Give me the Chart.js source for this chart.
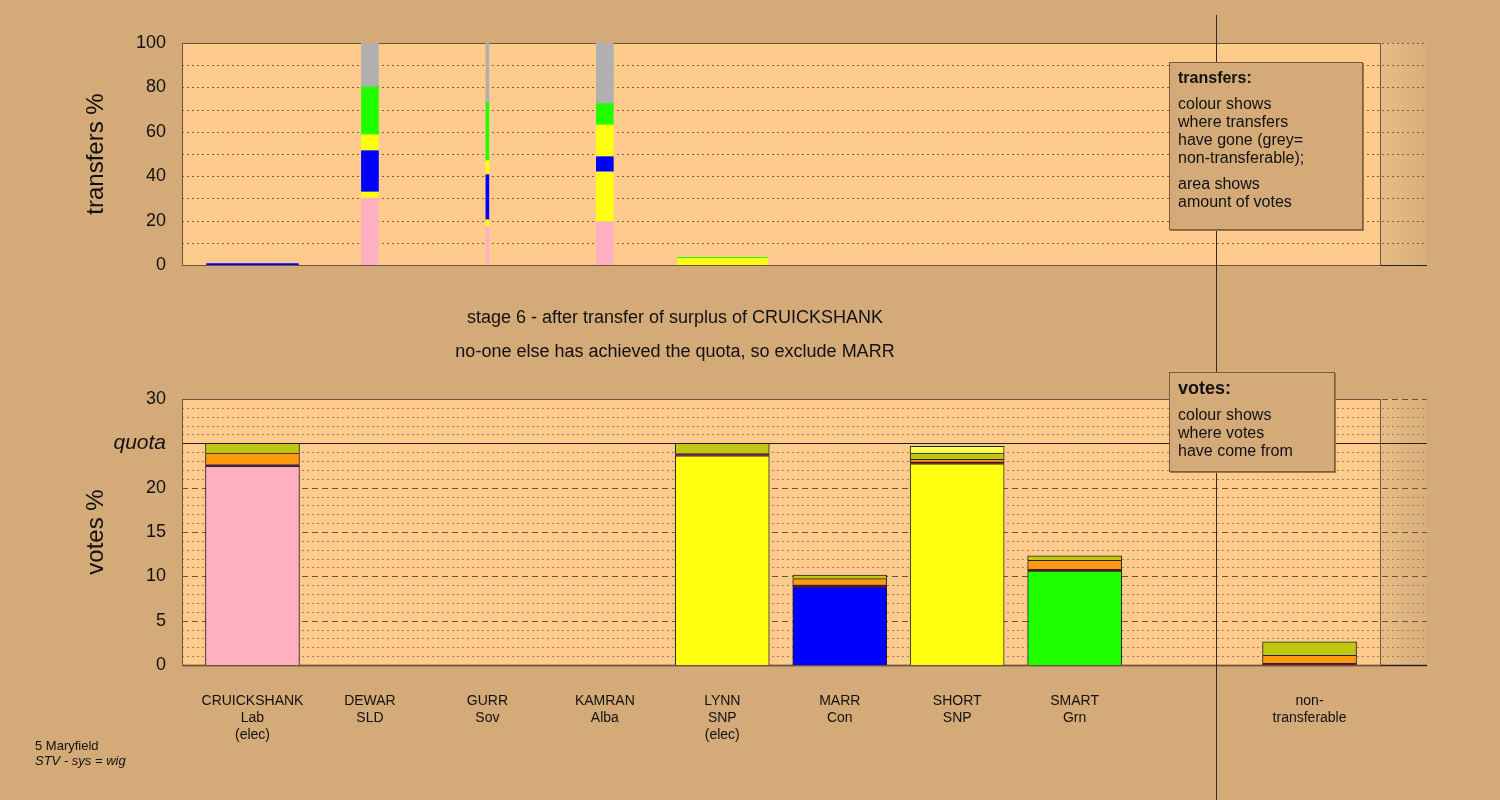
<!DOCTYPE html>
<html>
<head>
<meta charset="utf-8">
<script src="https://cdn.jsdelivr.net/npm/chart.js@4/dist/chart.umd.min.js"></script>
<style>
  body { margin:0; width:1500px; height:800px; background:#D4AA78; font-family:"Liberation Sans", Arial, sans-serif; overflow:hidden; }
  canvas { position:absolute; left:0; top:0; }
  .txt { position:absolute; color:#111; }
  .box { position:absolute; background:#D4AA78; border:1px solid #7a5c3a; box-shadow:1px 1px 0 #9a7a55; padding:6px 8px; font-size:16px; line-height:18px; color:#111; z-index:3; }
  .vline { position:absolute; left:1216px; top:15px; width:1px; height:785px; background:#3a2a1a; z-index:2; }
</style>
</head>
<body>
<canvas id="topChart" width="1500" height="800"></canvas>
<canvas id="botChart" width="1500" height="800"></canvas>
<div class="vline"></div>
<div class="txt" style="left:0;width:1350px;top:307px;text-align:center;font-size:18px;">stage 6 - after transfer of surplus of CRUICKSHANK</div>
<div class="txt" style="left:0;width:1350px;top:341px;text-align:center;font-size:18px;">no-one else has achieved the quota, so exclude MARR</div>
<div class="txt" style="left:35px;top:738px;font-size:13px;line-height:15px;">5 Maryfield<br><i>STV - sys = wig</i></div>
<div class="box" style="left:1169px;top:62px;width:176px;height:154px;">
  <b>transfers:</b>
  <div style="margin-top:8px">colour shows<br>where transfers<br>have gone (grey=<br>non-transferable);</div>
  <div style="margin-top:8px">area shows<br>amount of votes</div>
</div>
<div class="box" style="left:1169px;top:372px;width:148px;height:86px;">
  <b style="font-size:18px">votes:</b>
  <div style="margin-top:8px">colour shows<br>where votes<br>have come from</div>
</div>
<script>
// slots along the x axis (index 8 is an empty gap)
const slotLabels = [['CRUICKSHANK','Lab','(elec)'], ['DEWAR','SLD'], ['GURR','Sov'], ['KAMRAN','Alba'],
  ['LYNN','SNP','(elec)'], ['MARR','Con'], ['SHORT','SNP'], ['SMART','Grn'], [''], ['non-','transferable']];
const slots = [0,1,2,3,4,5,6,7,8,9];

// transfers (top chart): percent of each candidate's transfers, bottom to top
const transferSlots  = [0, 1, 2, 3, 4];
const transferWidths = [92, 17, 3, 17, 90];
const tPink    = [0,   30.2, 17.4, 19.5, 0];
const tYellow1 = [0,   2.7,  3.0,  22.5, 3.0];
const tBlue    = [0.6, 18.6, 20.3, 6.8,  0];
const tYellow2 = [0,   7.2,  6.3,  14.3, 0];
const tGreen   = [0,   21.5, 26.3, 9.6,  0.5];
const tGrey    = [0,   19.8, 26.7, 27.3, 0];

// votes (bottom chart): percent of votes by origin colour
const vPink   = [22.4, 0, 0, 0, 0,    0,    0,    0,    0, 0];
const vBlue   = [0,    0, 0, 0, 0,    8.8,  0,    0,    0, 0];
const vYellow = [0,    0, 0, 0, 23.6, 0,    22.7, 0,    0, 0];
const vGreen  = [0,    0, 0, 0, 0,    0,    0,    10.6, 0, 0];
const vPurple = [0.2,  0, 0, 0, 0.25, 0.25, 0.2,  0.2,  0, 0.2];
const vOrange = [1.3,  0, 0, 0, 0,    0.7,  0.3,  1.0,  0, 0.9];
const vOlive  = [1.1,  0, 0, 0, 1.15, 0.4,  0.7,  0.5,  0, 1.5];
const vLight  = [0,    0, 0, 0, 0,    0,    0.75, 0,    0, 0];
const quota = 25;

const C = { pink:'#FFB0C0', yellow:'#FFFF10', blue:'#0000FF', green:'#20FF00', grey:'#B0B0B0',
            purple:'#701040', orange:'#FF9A10', olive:'#C0C810', light:'#FFFF50' };
const PLOT_BG = '#FFCB8C';
const X_MIN = -0.6, X_MAX = 10, BOX_RIGHT = 9.6;

// background + hand-drawn grid
function gridPlugin(lines) {
  return {
    id: 'grid',
    beforeDatasetsDraw(chart) {
      const c = chart.ctx, a = chart.chartArea, x = chart.scales.x, y = chart.scales.y;
      const xr = x.getPixelForValue(BOX_RIGHT);
      c.save();
      c.fillStyle = PLOT_BG;
      c.fillRect(a.left, a.top, xr - a.left, a.bottom - a.top);
      const g = c.createLinearGradient(xr, 0, a.right, 0);
      g.addColorStop(0, '#E9BC84'); g.addColorStop(1, '#D8AE7A');
      c.fillStyle = g;
      c.fillRect(xr, a.top, a.right - xr, a.bottom - a.top);
      lines.forEach(l => {
        const py = Math.round(y.getPixelForValue(l.v)) + 0.5;
        c.beginPath();
        c.setLineDash(l.dash);
        c.strokeStyle = l.color; c.lineWidth = l.w;
        c.moveTo(a.left, py); c.lineTo(a.right, py); c.stroke();
      });
      c.setLineDash([]);
      c.strokeStyle = '#6a5440'; c.lineWidth = 1;
      c.strokeRect(a.left + 0.5, Math.round(y.getPixelForValue(y.max)) + 0.5, xr - a.left, a.bottom - y.getPixelForValue(y.max));
      c.restore();
    }
  };
}

const topLines = [];
for (let v = 10; v <= 100; v += 10) topLines.push({ v, dash:[2,3], color:'#7a6048', w:1 });
topLines.push({ v:0, dash:[], color:'#222', w:1 });

const botLines = [];
for (let v = 1; v <= 30; v++) {
  if (v === quota) botLines.push({ v, dash:[], color:'#222', w:1.2 });
  else if (v % 5 === 0) botLines.push({ v, dash:[6,4], color:'#6a5440', w:1 });
  else botLines.push({ v, dash:[2,3], color:'#9a8068', w:1 });
}
botLines.push({ v:0, dash:[], color:'#222', w:1.5 });

// top chart datasets: one per candidate and segment
const tSegs = [[tPink, C.pink], [tYellow1, C.yellow], [tBlue, C.blue], [tYellow2, C.yellow], [tGreen, C.green], [tGrey, C.grey]];
const topDatasets = [];
transferSlots.forEach((s, i) => {
  tSegs.forEach(([arr, col]) => {
    if (arr[i] > 0) topDatasets.push({
      data: [{ x: s, y: arr[i] }], backgroundColor: col, borderWidth: 0,
      barThickness: transferWidths[i], stack: 'c' + s, grouped: false
    });
  });
});

const bSegs = [[vPink, C.pink], [vBlue, C.blue], [vYellow, C.yellow], [vGreen, C.green],
               [vPurple, C.purple], [vOrange, C.orange], [vOlive, C.olive], [vLight, C.light]];
const botDatasets = bSegs.map(([arr, col]) => ({
  data: slots.map((s, i) => ({ x: s, y: arr[i] })).filter(d => d.y > 0),
  backgroundColor: col, borderColor: '#222', borderWidth: 1,
  barThickness: 94, stack: 'v', grouped: false
}));

function yAxis(max, step, title, cb, font) {
  return {
    min: 0, max, stacked: true,
    afterFit: s => { s.width = 100; },
    grid: { display: false }, border: { display: false },
    ticks: { stepSize: step, color: '#111', padding: 8, font, callback: cb, autoSkip: false },
    title: { display: true, text: title, color: '#111', font: { size: 24 }, padding: 0 }
  };
}

new Chart(document.getElementById('topChart'), {
  type: 'bar',
  data: { datasets: topDatasets },
  plugins: [gridPlugin(topLines)],
  options: {
    responsive: false, animation: false,
    layout: { padding: { left: 82, right: 73, top: 43, bottom: 535 } },
    plugins: { legend: { display: false }, tooltip: { enabled: false } },
    scales: {
      x: { type: 'linear', min: X_MIN, max: X_MAX, offset: false, display: false },
      y: yAxis(100, 20, 'transfers %', v => v, { size: 18 })
    }
  }
});

new Chart(document.getElementById('botChart'), {
  type: 'bar',
  data: { datasets: botDatasets },
  plugins: [gridPlugin(botLines)],
  options: {
    responsive: false, animation: false,
    layout: { padding: { left: 82, right: 73, top: 399, bottom: 35 } },
    plugins: { legend: { display: false }, tooltip: { enabled: false } },
    scales: {
      x: {
        type: 'linear', min: X_MIN, max: X_MAX, offset: false,
        afterBuildTicks: s => { s.ticks = slots.map(v => ({ value: v })); },
        afterFit: s => { s.height = 100; },
        grid: { display: false }, border: { display: false },
        ticks: { color: '#111', font: { size: 14, lineHeight: 1.2 }, padding: 20, maxRotation: 0, autoSkip: false,
                 callback: v => slotLabels[v] }
      },
      y: yAxis(30, 1, 'votes %',
        v => v === quota ? 'quota' : (v % 5 === 0 ? v : ''),
        ctx => ctx.tick && ctx.tick.value === quota ? { size: 21, style: 'italic' } : { size: 18 })
    }
  }
});
</script>
</body>
</html>
